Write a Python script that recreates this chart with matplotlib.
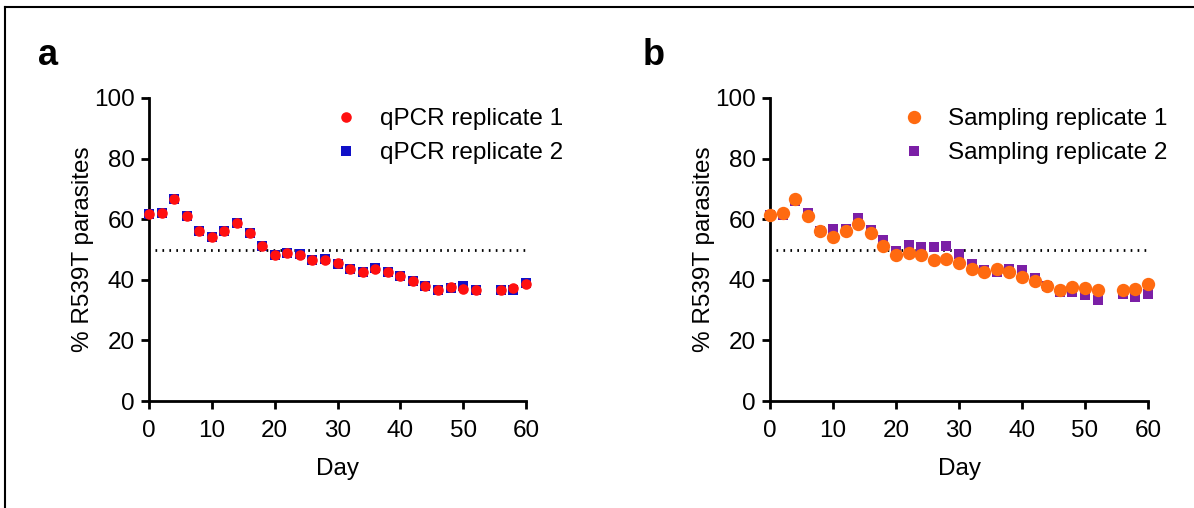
import matplotlib
matplotlib.use('Agg')
import matplotlib.pyplot as plt
from matplotlib.lines import Line2D

plt.rcParams['font.family'] = ['Liberation Sans', 'DejaVu Sans']

# Days sampled (day 54 missing)
days = [0, 2, 4, 6, 8, 10, 12, 14, 16, 18, 20, 22, 24, 26, 28, 30, 32, 34, 36,
        38, 40, 42, 44, 46, 48, 50, 52, 56, 58, 60]

qpcr_rep1 = [61.7, 62.0, 66.7, 61.1, 56.1, 54.2, 56.1, 58.6, 55.3, 51.0, 48.3,
             48.7, 48.3, 46.5, 46.6, 45.4, 43.5, 42.7, 43.6, 42.6, 41.1, 39.5,
             38.0, 36.7, 37.7, 37.1, 36.7, 36.7, 37.2, 38.7]
qpcr_rep2 = [61.6, 62.0, 66.6, 61.0, 56.0, 54.0, 56.2, 58.8, 55.6, 51.2, 48.1,
             49.0, 48.4, 46.6, 46.7, 45.1, 43.5, 42.6, 43.8, 42.5, 41.2, 39.6,
             37.9, 36.6, 37.2, 38.1, 36.7, 36.6, 36.5, 38.8]

samp_rep1 = [61.5, 61.9, 66.7, 61.1, 56.1, 54.2, 56.1, 58.5, 55.3, 51.0, 48.3,
             48.8, 48.3, 46.5, 46.7, 45.4, 43.6, 42.7, 43.6, 42.6, 41.0, 39.5,
             37.9, 36.7, 37.6, 37.4, 36.7, 36.7, 37.0, 38.7]
samp_rep2 = [61.5, 61.5, 66.1, 62.2, 56.1, 56.7, 56.9, 60.4, 56.5, 53.0, 49.4,
             51.4, 50.8, 50.9, 51.2, 48.5, 45.3, 43.1, 42.7, 43.5, 43.3, 40.7,
             37.9, 36.0, 35.9, 35.0, 33.4, 35.2, 34.3, 35.2]

threshold = 50

W, H = 1194, 508
FS = 17.5
fig = plt.figure(figsize=(W / 100, H / 100), dpi=100)


def setup_axes(ax):
    ax.set_xlim(0, 60)
    ax.set_ylim(0, 100)
    ax.set_xticks(range(0, 61, 10))
    ax.set_yticks(range(0, 101, 20))
    for s in ['top', 'right']:
        ax.spines[s].set_visible(False)
    for s in ['left', 'bottom']:
        ax.spines[s].set_linewidth(2.0)
    ax.tick_params(direction='out', length=6, width=2.0, labelsize=FS, pad=4)
    ax.tick_params(axis='x', pad=8)
    ax.set_xlabel('Day', fontsize=FS, labelpad=11)
    ax.set_ylabel('% R539T parasites', fontsize=FS)
    ax.yaxis.set_label_coords(-0.145, 0.5)
    ax.plot([1, 60], [threshold, threshold], color='black', lw=2.0,
            linestyle=(0, (0.6, 1.9)), zorder=1)


def add_legend(ax, handles, labels, x0):
    ax.legend(handles, labels, loc='upper left', bbox_to_anchor=(x0, 0.967),
              frameon=False, fontsize=FS, handlelength=1.0, handletextpad=0.9,
              borderpad=0, borderaxespad=0, labelspacing=0.5)


# panel a
ax1 = fig.add_axes([149 / W, 1 - 401 / H, 377 / W, 303 / H])
setup_axes(ax1)
ax1.plot(days, qpcr_rep2, 's', color='#1010c8', ms=7.0, mew=0, clip_on=False,
         zorder=3)
ax1.plot(days, qpcr_rep1, 'o', color='#ff1010', ms=7.6, mew=0, clip_on=False,
         zorder=4)
h1 = [Line2D([], [], ls='', marker='o', color='#ff1010', ms=7.6, mew=0),
      Line2D([], [], ls='', marker='s', color='#1010c8', ms=7.0, mew=0)]
add_legend(ax1, h1, ['qPCR replicate 1', 'qPCR replicate 2'], 0.490)

# panel b
ax2 = fig.add_axes([770 / W, 1 - 401 / H, 378 / W, 303 / H])
setup_axes(ax2)
ax2.plot(days, samp_rep2, 's', color='#7b1fa6', ms=7.4, mew=0, clip_on=False,
         zorder=3)
ax2.plot(days, samp_rep1, 'o', color='#ff6a10', ms=9.6, mew=0, clip_on=False,
         zorder=4)
h2 = [Line2D([], [], ls='', marker='o', color='#ff6a10', ms=9.6, mew=0),
      Line2D([], [], ls='', marker='s', color='#7b1fa6', ms=7.4, mew=0)]
add_legend(ax2, h2, ['Sampling replicate 1', 'Sampling replicate 2'], 0.349)

# panel letters
fig.text(38 / W, 1 - 65 / H, 'a', fontsize=26, fontweight='bold', va='baseline')
fig.text(643 / W, 1 - 65 / H, 'b', fontsize=26, fontweight='bold', va='baseline')

# border lines (top and left)
fig.add_artist(Line2D([5 / W, 1], [1 - 7 / H, 1 - 7 / H], color='black', lw=1.5,
                      transform=fig.transFigure))
fig.add_artist(Line2D([5 / W, 5 / W], [0, 1 - 7 / H], color='black', lw=1.5,
                      transform=fig.transFigure))

fig.savefig('out.png', dpi=100)
